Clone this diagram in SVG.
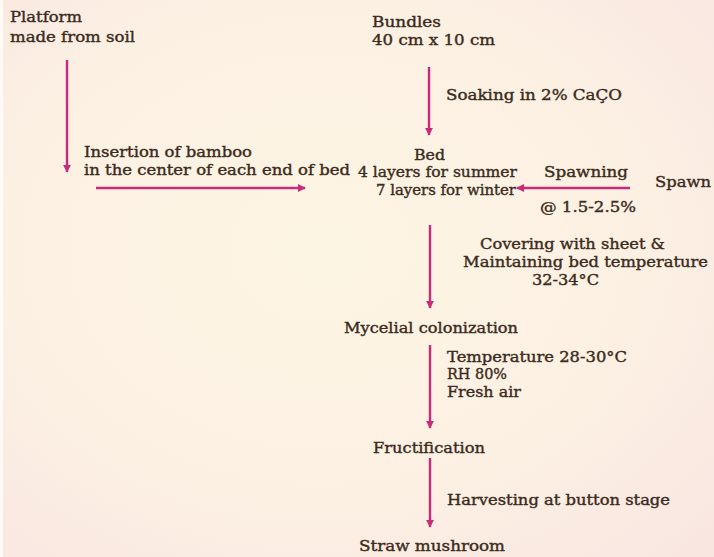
<svg xmlns="http://www.w3.org/2000/svg" width="714" height="557" viewBox="0 0 714 557">
<defs>
<radialGradient id="bg" cx="0.45" cy="0.45" r="0.75">
<stop offset="0" stop-color="#fdf5e3"/>
<stop offset="0.6" stop-color="#fcf0e3"/>
<stop offset="1" stop-color="#f9e6e1"/>
</radialGradient>
<marker id="ah" viewBox="0 0 10 10" refX="9" refY="5" markerWidth="3.4" markerHeight="3.4" orient="auto" markerUnits="strokeWidth">
<path d="M0,0 L10,5 L0,10 z" fill="#c92a7c"/>
</marker>
<style>
text{font-family:"DejaVu Serif","Liberation Serif",serif;font-size:15.5px;fill:#3b2b20;stroke:#3b2b20;stroke-width:0.4px;}
.c{stroke:#c92a7c;stroke-width:2.4;fill:none;marker-end:url(#ah);}
</style>
</defs>
<rect width="714" height="557" fill="url(#bg)"/>
<rect x="0" y="0" width="3" height="557" fill="#fffaf6"/>

<g id="connectors">
<line class="c" x1="67" y1="60" x2="67" y2="172"/>
<line class="c" x1="96" y1="188" x2="305" y2="188"/>
<line class="c" x1="429" y1="67" x2="429" y2="135"/>
<line class="c" x1="630" y1="188" x2="517" y2="188"/>
<line class="c" x1="430" y1="225" x2="430" y2="308"/>
<line class="c" x1="430" y1="345" x2="430" y2="428"/>
<line class="c" x1="430" y1="458" x2="430" y2="527"/>
</g>

<g id="platform">
<text x="10" y="22" textLength="72" lengthAdjust="spacingAndGlyphs">Platform</text>
<text x="10" y="42" textLength="125" lengthAdjust="spacingAndGlyphs">made from soil</text>
</g>
<g id="insertion">
<text x="84" y="157" textLength="168" lengthAdjust="spacingAndGlyphs">Insertion of bamboo</text>
<text x="84" y="175" textLength="266" lengthAdjust="spacingAndGlyphs">in the center of each end of bed</text>
</g>
<g id="bundles">
<text x="372" y="27" textLength="69" lengthAdjust="spacingAndGlyphs">Bundles</text>
<text x="372" y="45" textLength="123" lengthAdjust="spacingAndGlyphs">40 cm x 10 cm</text>
</g>
<g id="soaking">
<text x="446" y="100" textLength="176" lengthAdjust="spacingAndGlyphs">Soaking in 2% CaÇO</text>
</g>
<g id="bed">
<text x="414" y="160" textLength="31" lengthAdjust="spacingAndGlyphs">Bed</text>
<text x="358" y="177" textLength="159" lengthAdjust="spacingAndGlyphs">4 layers for summer</text>
<text x="376" y="195" textLength="140" lengthAdjust="spacingAndGlyphs">7 layers for winter</text>
</g>
<g id="spawning">
<text x="544" y="177" textLength="84" lengthAdjust="spacingAndGlyphs">Spawning</text>
<text x="540" y="212" textLength="96" lengthAdjust="spacingAndGlyphs">@ 1.5-2.5%</text>
</g>
<g id="spawn">
<text x="655" y="187" textLength="56" lengthAdjust="spacingAndGlyphs">Spawn</text>
</g>
<g id="covering">
<text x="480" y="249" textLength="185" lengthAdjust="spacingAndGlyphs">Covering with sheet &amp;</text>
<text x="463" y="267" textLength="245" lengthAdjust="spacingAndGlyphs">Maintaining bed temperature</text>
<text x="532" y="285" textLength="67" lengthAdjust="spacingAndGlyphs">32-34°C</text>
</g>
<g id="mycelial">
<text x="344" y="333" textLength="174" lengthAdjust="spacingAndGlyphs">Mycelial colonization</text>
</g>
<g id="conditions">
<text x="447" y="362" textLength="180" lengthAdjust="spacingAndGlyphs">Temperature 28-30°C</text>
<text x="447" y="379" textLength="60" lengthAdjust="spacingAndGlyphs">RH 80%</text>
<text x="447" y="397" textLength="74" lengthAdjust="spacingAndGlyphs">Fresh air</text>
</g>
<g id="fructification">
<text x="373" y="453" textLength="112" lengthAdjust="spacingAndGlyphs">Fructification</text>
</g>
<g id="harvesting">
<text x="447" y="505" textLength="223" lengthAdjust="spacingAndGlyphs">Harvesting at button stage</text>
</g>
<g id="straw">
<text x="359" y="551" textLength="146" lengthAdjust="spacingAndGlyphs">Straw mushroom</text>
</g>
</svg>
